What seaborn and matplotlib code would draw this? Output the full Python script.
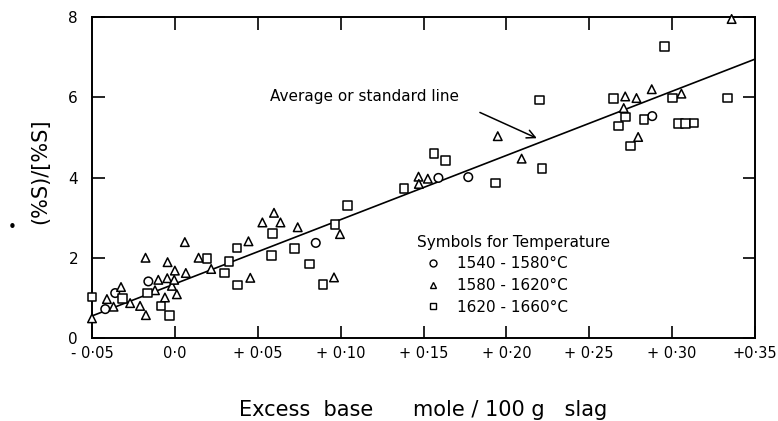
import matplotlib
matplotlib.use("Agg")
import matplotlib.pyplot as plt
import seaborn as sns
import pandas as pd
from matplotlib.lines import Line2D

# ---- data ----
temp_labels = ["1540 - 1580°C", "1580 - 1620°C", "1620 - 1660°C"]

circ_x = [-0.042, -0.036, -0.016, 0.085, 0.159, 0.177, 0.288]
circ_y = [0.72, 1.12, 1.41, 2.37, 3.99, 4.01, 5.53]

tri_x = [-0.050, -0.041, -0.037, -0.0325, -0.027, -0.021, -0.0175, -0.0177, -0.012, -0.010,
         -0.006, -0.0046, -0.0044, -0.0018, -0.0004, 0.000, 0.0012, 0.006, 0.0066, 0.0143,
         0.0219, 0.0444, 0.0455, 0.0528, 0.0598, 0.0637, 0.0741, 0.096, 0.0996, 0.147,
         0.1472, 0.1526, 0.1948, 0.2092, 0.2708, 0.2717, 0.2785, 0.2795, 0.2877, 0.3056,
         0.3359]
tri_y = [0.49, 0.97, 0.78, 1.27, 0.87, 0.80, 0.57, 2.00, 1.19, 1.45,
         1.01, 1.49, 1.89, 1.30, 1.45, 1.68, 1.09, 2.39, 1.62, 2.00,
         1.72, 2.41, 1.50, 2.88, 3.12, 2.88, 2.76, 1.51, 2.59, 4.02,
         3.84, 3.97, 5.03, 4.47, 5.73, 6.02, 5.98, 5.01, 6.20, 6.09,
         7.95]

sq_x = [-0.050, -0.0315, -0.0165, -0.0084, -0.0034, 0.0195, 0.0299, 0.0327, 0.0375, 0.0378,
        0.0584, 0.059, 0.0723, 0.0811, 0.0893, 0.0966, 0.104, 0.1382, 0.1564, 0.1634,
        0.1934, 0.2199, 0.2215, 0.2645, 0.2675, 0.272, 0.2749, 0.2829, 0.2954, 0.3002,
        0.3038, 0.3082, 0.3133, 0.3335]
sq_y = [1.02, 0.99, 1.12, 0.80, 0.56, 1.98, 1.62, 1.91, 2.24, 1.32,
        2.06, 2.60, 2.23, 1.84, 1.34, 2.83, 3.30, 3.72, 4.60, 4.42,
        3.86, 5.93, 4.22, 5.97, 5.28, 5.51, 4.79, 5.45, 7.27, 5.98,
        5.34, 5.34, 5.36, 5.98]

line_x = [-0.05, 0.35]
line_y = [0.55, 6.95]

x_ticks = [-0.05, 0.0, 0.05, 0.10, 0.15, 0.20, 0.25, 0.30, 0.35]
x_ticklabels = ["- 0·05", "0·0", "+ 0·05", "+ 0·10", "+ 0·15", "+ 0·20", "+ 0·25", "+ 0·30", "+0·35"]
y_ticks = [0, 2, 4, 6, 8]

df = pd.DataFrame({
    "x": circ_x + tri_x + sq_x,
    "y": circ_y + tri_y + sq_y,
    "temp": [temp_labels[0]] * len(circ_x) + [temp_labels[1]] * len(tri_x) + [temp_labels[2]] * len(sq_x),
})
markers = {temp_labels[0]: "o", temp_labels[1]: "^", temp_labels[2]: "s"}

sns.set_style("ticks")
plt.rcParams["font.family"] = ["DejaVu Sans"]
plt.rcParams["text.color"] = "black"
plt.rcParams["axes.labelcolor"] = "black"

fig = plt.figure(figsize=(7.78, 4.21), dpi=100)
ax = fig.add_axes([92 / 778, 1 - 338 / 421, (755 - 92) / 778, (338 - 17) / 421])

ax.plot(line_x, line_y, color="black", lw=1.2, zorder=2)

sns.scatterplot(data=df, x="x", y="y", style="temp", markers=markers, s=38,
                color="black", legend=False, ax=ax, zorder=3, clip_on=False)
for coll in ax.collections:
    coll.set_facecolor("white")
    coll.set_edgecolor("black")
    coll.set_linewidth(1.1)

ax.set_xlim(-0.05, 0.35)
ax.set_ylim(0, 8)
ax.set_xticks(x_ticks)
ax.set_xticklabels(x_ticklabels)
ax.set_yticks(y_ticks)

for s in ax.spines.values():
    s.set_visible(True)
    s.set_linewidth(1.4)
    s.set_color("black")
ax.tick_params(direction="in", length=9, width=1.2, top=True, right=True,
               labelsize=10.5, colors="black")
ax.tick_params(axis="x", pad=6)
ax.tick_params(axis="y", pad=10, labelsize=11)

ax.set_xlabel("Excess  base      mole / 100 g   slag", fontsize=15, labelpad=28, color="black")
ax.set_ylabel("(%S)/[%S]", fontsize=15, color="black")
ax.yaxis.set_label_coords(-0.063, 0.52)
fig.text(12 / 778, 1 - 228 / 421, "•", fontsize=11, ha="center", va="center")

# annotation
ax.text(0.0572, 6.03, "Average or standard line", fontsize=11, ha="left", va="center")
ax.annotate("", xy=(0.2199, 4.95), xytext=(0.1825, 5.65),
            arrowprops=dict(arrowstyle="->,head_length=0.6,head_width=0.3", color="black", lw=1.1))

# legend
ax.text(0.49, (338 - 243) / 321, "Symbols for Temperature", transform=ax.transAxes,
        fontsize=11, ha="left", va="center")
handles = [Line2D([], [], ls="none", marker=markers[t], markersize=5, markerfacecolor="white",
                  markeredgecolor="black", markeredgewidth=1.0, color="black") for t in temp_labels]
leg = ax.legend(handles, temp_labels, loc="upper left", bbox_to_anchor=(0.50, (338 - 256) / 321),
                frameon=False, fontsize=11, handlelength=1.2, handletextpad=1.0,
                labelspacing=0.45, borderpad=0.0, borderaxespad=0.0)

fig.savefig("out.png", dpi=100)
